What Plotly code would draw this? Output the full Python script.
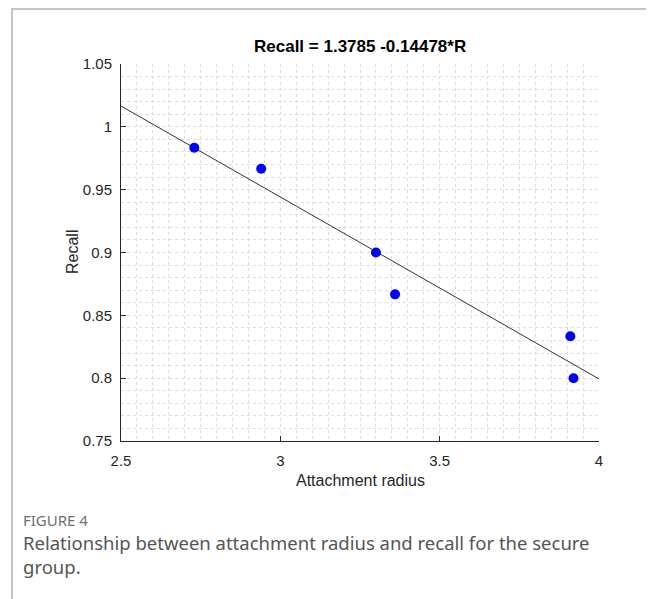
import plotly.graph_objects as go

# Data
radius = [2.73, 2.94, 3.30, 3.36, 3.91, 3.92]
recall = [0.9833, 0.9667, 0.9000, 0.8667, 0.8333, 0.8000]
fit_intercept = 1.3785
fit_slope = -0.14478
fit_x = [2.5, 4.0]
fit_y = [fit_intercept + fit_slope * x for x in fit_x]

x_ticks = [2.5, 3, 3.5, 4]
x_ticklabels = ["2.5", "3", "3.5", "4"]
y_ticks = [0.75, 0.8, 0.85, 0.9, 0.95, 1.0, 1.05]
y_ticklabels = ["0.75", "0.8", "0.85", "0.9", "0.95", "1", "1.05"]

title_text = "Recall = 1.3785 -0.14478*R"
x_title = "Attachment radius"
y_title = "Recall"
caption_label = "FIGURE 4"
caption_text = "Relationship between attachment radius and recall for the secure<br>group."

OFF = 8  # page body margin
W, H = 654 - OFF, 599 - OFF
L, T = 121 - OFF, 64 - OFF
R = W - (599 - OFF)
B = H - (441 - OFF)
pw, ph = W - L - R, H - T - B


def px(xp):
    return (xp - OFF - L) / pw


def py(yp):
    return (H - B - (yp - OFF)) / ph


ARIAL = "Liberation Sans, Arial, sans-serif"

fig = go.Figure()
fig.add_trace(go.Scatter(x=fit_x, y=fit_y, mode="lines",
                         line=dict(color="#333333", width=1), showlegend=False,
                         hoverinfo="skip"))
fig.add_trace(go.Scatter(x=radius, y=recall, mode="markers",
                         marker=dict(color="#0000ff", size=10), showlegend=False))

axis_font = dict(family=ARIAL, size=15, color="#262626")
grid_common = dict(showgrid=True, gridcolor="#dcdcdc", griddash="dot", gridwidth=1)

fig.update_xaxes(range=[2.5, 4], tickmode="array", tickvals=x_ticks, ticktext=x_ticklabels,
                 ticks="inside", ticklen=5, tickcolor="#262626", showline=True,
                 linecolor="#262626", linewidth=1, mirror=False, zeroline=False,
                 tickfont=axis_font, ticklabelstandoff=6, **grid_common,
                 minor=dict(dtick=0.05, tick0=2.5, showgrid=True, gridcolor="#dcdcdc",
                            griddash="dot", gridwidth=1, ticks=""))
fig.update_yaxes(range=[0.75, 1.05], tickmode="array", tickvals=y_ticks, ticktext=y_ticklabels,
                 ticks="inside", ticklen=5, tickcolor="#262626", showline=True,
                 linecolor="#262626", linewidth=1, mirror=False, zeroline=False,
                 tickfont=axis_font, ticklabelstandoff=5, **grid_common,
                 minor=dict(dtick=0.01, tick0=0.75, showgrid=True, gridcolor="#dcdcdc",
                            griddash="dot", gridwidth=1, ticks=""))

fig.update_layout(
    width=W, height=H,
    margin=dict(l=L, r=R, t=T, b=B, autoexpand=False),
    paper_bgcolor="white", plot_bgcolor="white",
    shapes=[
        dict(type="line", xref="paper", yref="paper", x0=px(11), x1=px(670), y0=py(9), y1=py(9),
             line=dict(color="#c4c4c4", width=2)),
        dict(type="line", xref="paper", yref="paper", x0=px(12), x1=px(12), y0=py(8), y1=py(610),
             line=dict(color="#c4c4c4", width=2)),
    ],
    annotations=[
        dict(text="<b>" + title_text + "</b>", xref="paper", yref="paper", x=px(360), y=py(46),
             xanchor="center", yanchor="middle", showarrow=False,
             font=dict(family=ARIAL, size=17, color="#000000")),
        dict(text=x_title, xref="paper", yref="paper", x=px(360), y=py(481),
             xanchor="center", yanchor="middle", showarrow=False,
             font=dict(family=ARIAL, size=16, color="#262626")),
        dict(text=y_title, xref="paper", yref="paper", x=px(72), y=py(252),
             xanchor="center", yanchor="middle", showarrow=False, textangle=-90,
             font=dict(family=ARIAL, size=16, color="#262626")),
        dict(text=caption_label, xref="paper", yref="paper", x=px(21), y=py(520),
             xanchor="left", yanchor="middle", showarrow=False,
             font=dict(family="Noto Sans, Open Sans, sans-serif", size=15, color="#707070")),
        dict(text=caption_text, xref="paper", yref="paper", x=px(21), y=py(554),
             xanchor="left", yanchor="middle", align="left", showarrow=False,
             font=dict(family="Noto Sans, Open Sans, sans-serif", size=18.5, color="#555555")),
    ],
)

fig.write_html("out.html")
